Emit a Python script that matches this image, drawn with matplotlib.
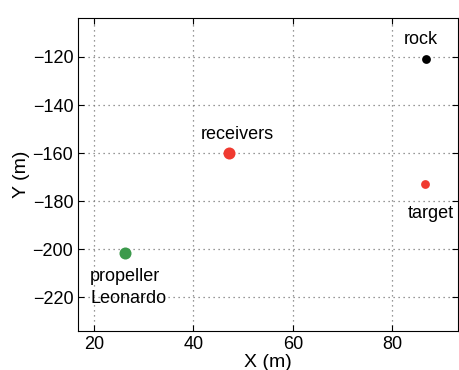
import matplotlib.pyplot as plt

plt.rcParams['font.family'] = ['Liberation Sans', 'DejaVu Sans']

names = ['rock', 'receivers', 'target', 'propeller\nLeonardo']
xs = [86.8, 47.2, 86.6, 26.2]
ys = [-121.0, -160.0, -173.0, -201.5]
colors = ['black', '#f03a30', '#f03a30', '#3c9a4c']
sizes = [40, 75, 40, 75]

fig = plt.figure(figsize=(4.6, 3.7), dpi=100)
ax = fig.add_axes([0.17, 0.105, 0.826, 0.847])

for x, y, c, s in zip(xs, ys, colors, sizes):
    ax.scatter(x, y, s=s, color=c, zorder=3, linewidths=0)

# label placement around each point
ax.annotate(names[0], (xs[0], ys[0]), xytext=(-4, 8), textcoords='offset points',
            ha='center', va='bottom', fontsize=13)
ax.annotate(names[1], (xs[1], ys[1]), xytext=(6, 7), textcoords='offset points',
            ha='center', va='bottom', fontsize=13)
ax.annotate(names[2], (xs[2], ys[2]), xytext=(4, -15), textcoords='offset points',
            ha='center', va='top', fontsize=13)
ax.annotate(names[3], (xs[3], ys[3]), xytext=(-25, -11), textcoords='offset points',
            ha='left', va='top', fontsize=13, linespacing=1.35)

ax.set_xlim(16.8, 93.3)
ax.set_ylim(-234, -103.7)
ax.set_xticks([20, 40, 60, 80])
ax.set_yticks([-220, -200, -180, -160, -140, -120])
ax.grid(True, linestyle=(0, (1, 3)), color='#777777', linewidth=0.9)
ax.tick_params(direction='in', top=True, right=True, labelsize=13, length=4)
ax.set_xlabel('X (m)', fontsize=14, labelpad=1)
ax.set_ylabel('Y (m)', fontsize=14, labelpad=2)
for sp in ax.spines.values():
    sp.set_linewidth(0.8)

fig.savefig('out.png', dpi=100)
